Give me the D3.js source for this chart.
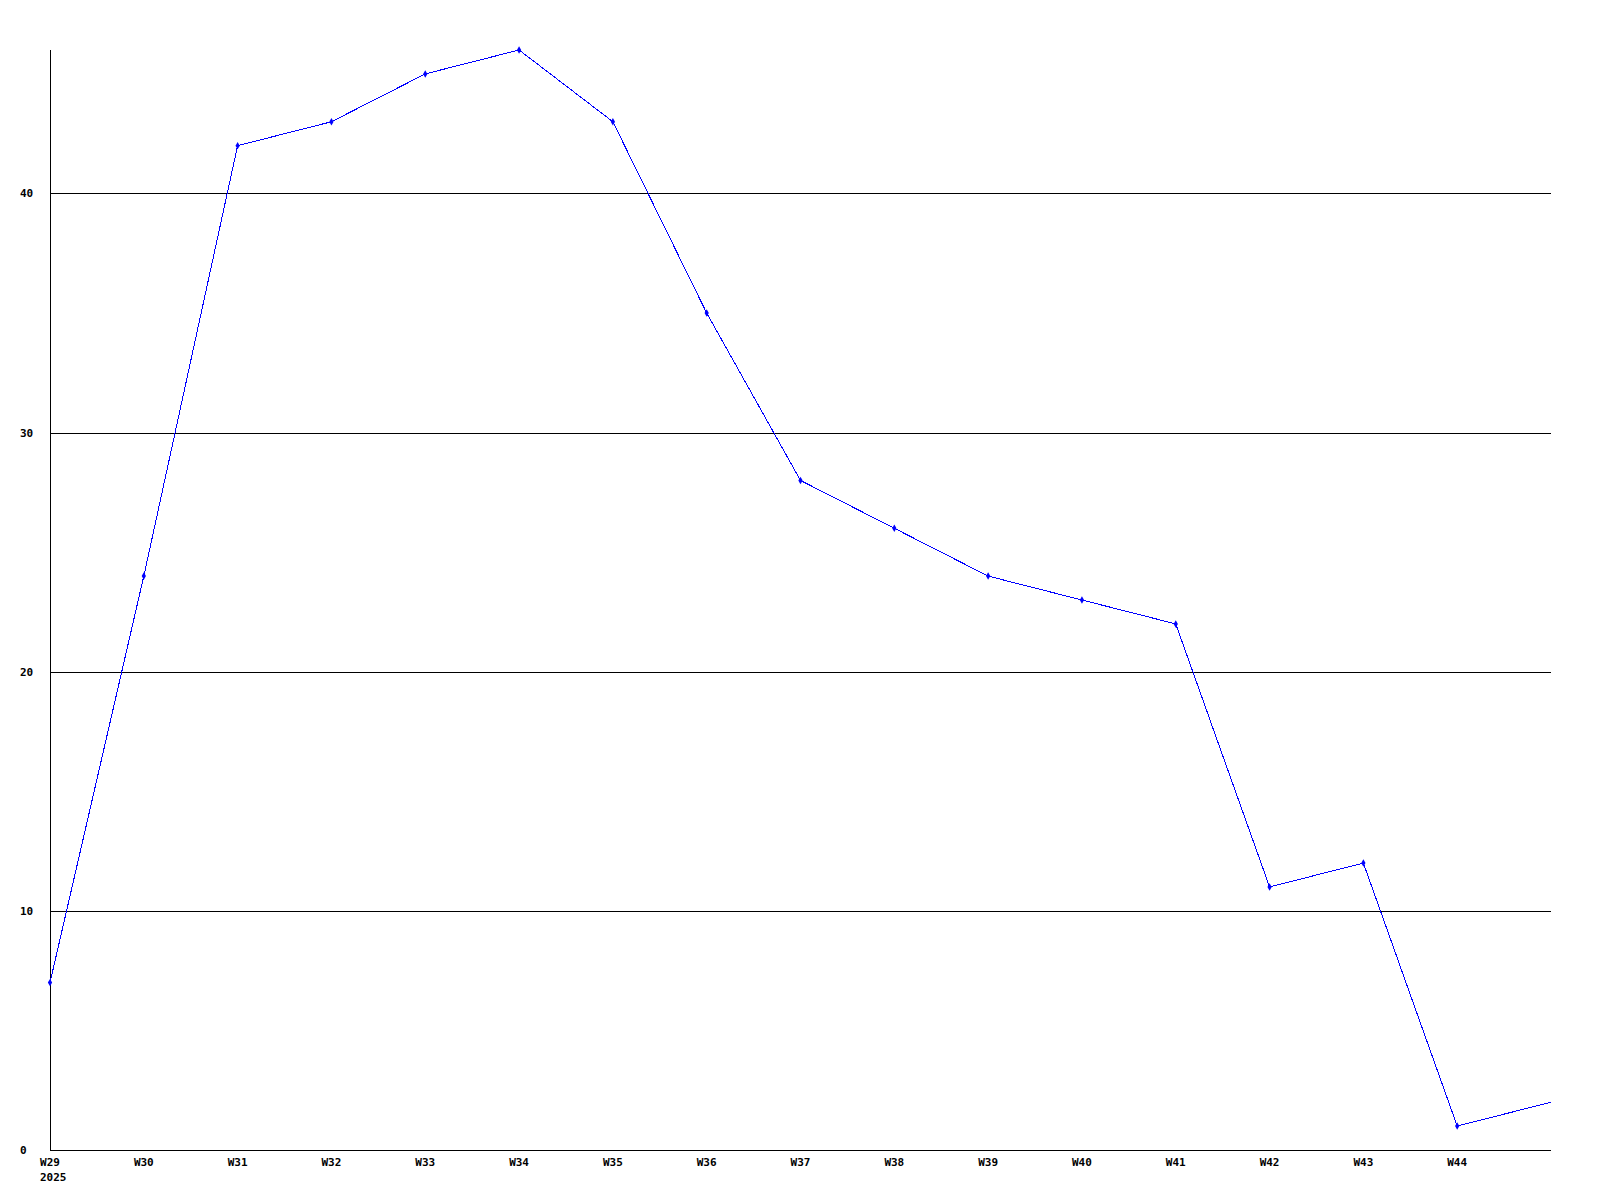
<!DOCTYPE html>
<html>
<head>
<meta charset="utf-8">
<script src="https://cdn.jsdelivr.net/npm/d3@7"></script>
<style>
  body { margin: 0; background: #fff; }
  text { font-family: "DejaVu Sans Mono", monospace; font-size: 11px; font-weight: bold; fill: #000; }
</style>
</head>
<body>
<div id="chart"></div>
<script>
// weeks and values
const weeks = ["W29", "W30", "W31", "W32", "W33", "W34", "W35", "W36", "W37",
               "W38", "W39", "W40", "W41", "W42", "W43", "W44", "W45"];
const values = [7, 24, 42, 43, 45, 46, 43, 35, 28, 26, 24, 23, 22, 11, 12, 1, 2];
const weekLabels = weeks.slice(0, 16);
const yTicks = [0, 10, 20, 30, 40];
const yearLabel = "2025";

const width = 1600, height = 1200;
const plotLeft = 50, plotRight = 1551, plotTop = 50, plotBottom = 1150;

const svg = d3.select("#chart").append("svg")
    .attr("width", width)
    .attr("height", height);

const x = d3.scalePoint().domain(weeks).range([plotLeft, plotRight]);
const y = d3.scaleLinear().domain([0, 46]).range([plotBottom, plotTop]);

// grid lines
svg.selectAll(".grid")
    .data(yTicks.filter(d => d > 0))
    .enter().append("line")
    .attr("x1", plotLeft).attr("x2", plotRight)
    .attr("y1", d => Math.round(y(d)) + 0.5)
    .attr("y2", d => Math.round(y(d)) + 0.5)
    .attr("stroke", "#000")
    .attr("shape-rendering", "crispEdges");

// axes
svg.append("line")
    .attr("x1", plotLeft + 0.5).attr("x2", plotLeft + 0.5)
    .attr("y1", plotTop).attr("y2", plotBottom + 1)
    .attr("stroke", "#000").attr("shape-rendering", "crispEdges");
svg.append("line")
    .attr("x1", plotLeft).attr("x2", plotRight)
    .attr("y1", plotBottom + 0.5).attr("y2", plotBottom + 0.5)
    .attr("stroke", "#000").attr("shape-rendering", "crispEdges");

// y labels, left aligned
svg.selectAll(".ylab")
    .data(yTicks)
    .enter().append("text")
    .attr("x", 20)
    .attr("y", d => y(d) + 4)
    .text(d => d);

// x labels
svg.selectAll(".xlab")
    .data(weekLabels)
    .enter().append("text")
    .attr("x", d => x(d))
    .attr("y", 1166)
    .attr("text-anchor", "middle")
    .text(d => d);

svg.append("text")
    .attr("x", 40)
    .attr("y", 1181)
    .text(yearLabel);

// line
const data = weeks.map((w, i) => ({ week: w, value: values[i] }));

const line = d3.line()
    .x(d => x(d.week))
    .y(d => y(d.value));

svg.append("path")
    .datum(data)
    .attr("d", line)
    .attr("fill", "none")
    .attr("stroke", "#0000ff")
    .attr("stroke-width", 1)
    .attr("shape-rendering", "crispEdges");

// point markers (last point has none)
svg.selectAll(".pt")
    .data(data.slice(0, 16))
    .enter().append("path")
    .attr("d", d3.symbol().type(d3.symbolDiamond).size(16))
    .attr("transform", d => "translate(" + x(d.week) + "," + y(d.value) + ")")
    .attr("fill", "#0000ff");
</script>
</body>
</html>
